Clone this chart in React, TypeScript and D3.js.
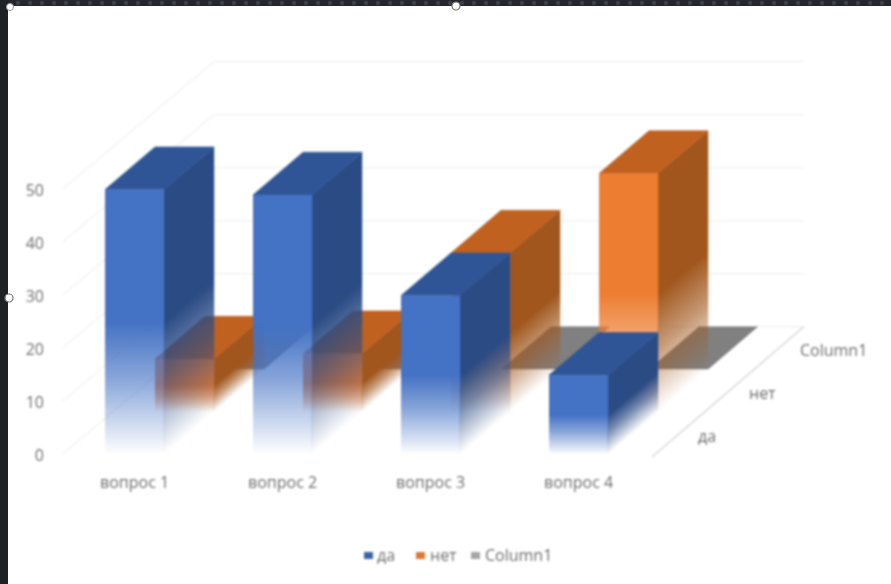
import React from "react";
import * as d3 from "d3";

const categories = ["вопрос 1", "вопрос 2", "вопрос 3", "вопрос 4"];
const seriesNames = ["да", "нет", "Column1"];
const daValues = [50, 49, 30, 15];
const netValues = [10, 11, 30, 45];
const column1Values = [0, 0, 0, 0];
const yTicks = [0, 10, 20, 30, 40, 50];
const frontColors = ["#4472c4", "#ed7d31", "#a5a5a5"];
const topColors = ["#2f5597", "#c0611f", "#808080"];
const sideColors = ["#2a4b84", "#a0561c", "#808080"];
const legendColors = ["#3a62ab", "#e0782f", "#a5a5a5"];

const W = 891, H = 584;
const FONT = "'Open Sans','Noto Sans',sans-serif";
const TXT = "#6e6e6e";
const FS = 16;

const y = d3.scaleLinear().domain([0, 50]).range([454.6, 189.6]);
const x = d3.scaleBand<string>().domain(categories).range([60.6, 652.6]).paddingInner(0.6).paddingOuter(0.3);
const rowX = d3.scaleLinear().domain([0, 3]).range([0, 150]);
const rowY = d3.scaleLinear().domain([0, 3]).range([0, -128]);
const line = d3.line();
const poly = (p: [number, number][]) => line(p)! + "Z";

const FADE_START = 0.5;

function Bar({ row, cat, value }: { row: number; cat: string; value: number }) {
  const id = `r${row}c${categories.indexOf(cat)}`;
  const bw = x.bandwidth();
  const x0 = x(cat)! + rowX(row);
  const x1 = x0 + bw;
  const dx = rowX(1), dy = rowY(1);
  const floor = y(0) + rowY(row);
  const top = floor - (y(0) - y(value));
  const h = floor - top;
  if (h <= 0) {
    return (
      <path
        d={poly([[x0, floor], [x1, floor], [x1 + dx, floor + dy], [x0 + dx, floor + dy]])}
        fill={topColors[row]}
      />
    );
  }
  const len = Math.hypot(dx, dy);
  const nx = -dy / len, ny = dx / len;
  const t = h * ny;
  const stops = (c: string) => (
    <>
      <stop offset={0} stopColor={c} />
      <stop offset={FADE_START} stopColor={c} />
      <stop offset={0.72} stopColor={c} stopOpacity={0.62} />
      <stop offset={1} stopColor={c} stopOpacity={0} />
    </>
  );
  return (
    <g>
      <defs>
        <linearGradient id={`f${id}`} gradientUnits="userSpaceOnUse" x1={x0} y1={top} x2={x0} y2={floor}>
          {stops(frontColors[row])}
        </linearGradient>
        <linearGradient id={`s${id}`} gradientUnits="userSpaceOnUse" x1={x1} y1={top} x2={x1 + nx * t} y2={top + ny * t}>
          {stops(sideColors[row])}
        </linearGradient>
      </defs>
      <path d={poly([[x1 - 0.5, top], [x1 + dx, top + dy], [x1 + dx, floor + dy], [x1 - 0.5, floor]])} fill={`url(#s${id})`} />
      <path d={poly([[x0, top], [x1, top], [x1 + dx, top + dy], [x0 + dx, top + dy]])} fill={topColors[row]} stroke={topColors[row]} strokeWidth={0.6} strokeLinejoin="round" />
      <rect x={x0} y={top} width={bw} height={h} fill={`url(#f${id})`} />
    </g>
  );
}

export default function App() {
  const rows = [daValues, netValues, column1Values];
  const backX0 = 62 + 152;
  const backX1 = 652 + 152;
  const legendItems = [
    { x: 364, tx: 377 },
    { x: 416, tx: 430 },
    { x: 471, tx: 485 },
  ];
  return (
    <svg width={W} height={H} viewBox={`0 0 ${W} ${H}`} style={{ position: "fixed", left: 0, top: 0, display: "block", background: "#fff" }}>
      <defs>
        <pattern id="dots" width={12} height={6} patternUnits="userSpaceOnUse">
          <rect width={12} height={6} fill="#23262b" />
          <circle cx={6} cy={3} r={2.2} fill="#3b3f46" />
        </pattern>
      </defs>
      <g style={{ filter: "blur(0.8px)" }}>
        <rect width={W} height={H} fill="#fff" />
        {yTicks.map((v) => (
          <path key={v} d={line([[62, y(v)], [backX0, y(v) + rowY(3)], [backX1, y(v) + rowY(3)]])!} fill="none" stroke="#f0f0f0" strokeWidth={1.2} />
        ))}
        <path d={line([[652, 457], [backX1, y(0) + rowY(3)]])!} fill="none" stroke="#d4d4d4" strokeWidth={1.3} />

        {[2, 1, 0].map((row) => (
          <g key={row}>
            {categories.map((c, i) => (
              <Bar key={c} row={row} cat={c} value={rows[row][i]} />
            ))}
          </g>
        ))}

        {yTicks.map((v) => (
          <text key={v} x={44} y={y(v) + 6.5} textAnchor="end" fontFamily={FONT} fontSize={FS} fill={TXT}>{v}</text>
        ))}
        {categories.map((c) => (
          <text key={c} x={x(c)! + x.bandwidth() / 2} y={488} textAnchor="middle" fontFamily={FONT} fontSize={FS} fill={TXT}>{c}</text>
        ))}
        <text x={698} y={442} fontFamily={FONT} fontSize={FS} fill={TXT}>{seriesNames[0]}</text>
        <text x={749} y={399} fontFamily={FONT} fontSize={FS} fill={TXT}>{seriesNames[1]}</text>
        <text x={800} y={356} fontFamily={FONT} fontSize={FS} fill={TXT}>{seriesNames[2]}</text>

        {seriesNames.map((s, i) => (
          <g key={s}>
            <rect x={legendItems[i].x} y={552} width={9} height={7} fill={legendColors[i]} />
            <text x={legendItems[i].tx} y={561} fontFamily={FONT} fontSize={FS} fill={TXT}>{s}</text>
          </g>
        ))}
      </g>
      <rect x={0} y={0} width={W} height={6} fill="url(#dots)" />
      <rect x={0} y={0} width={8} height={H} fill="#1e2126" />
      <circle cx={456} cy={6} r={4} fill="#fff" stroke="#777" strokeWidth={1.2} />
      <circle cx={9} cy={298} r={4} fill="#fff" stroke="#777" strokeWidth={1.2} />
      <circle cx={10} cy={7} r={3.5} fill="#fff" stroke="#999" strokeWidth={1} />
    </svg>
  );
}
